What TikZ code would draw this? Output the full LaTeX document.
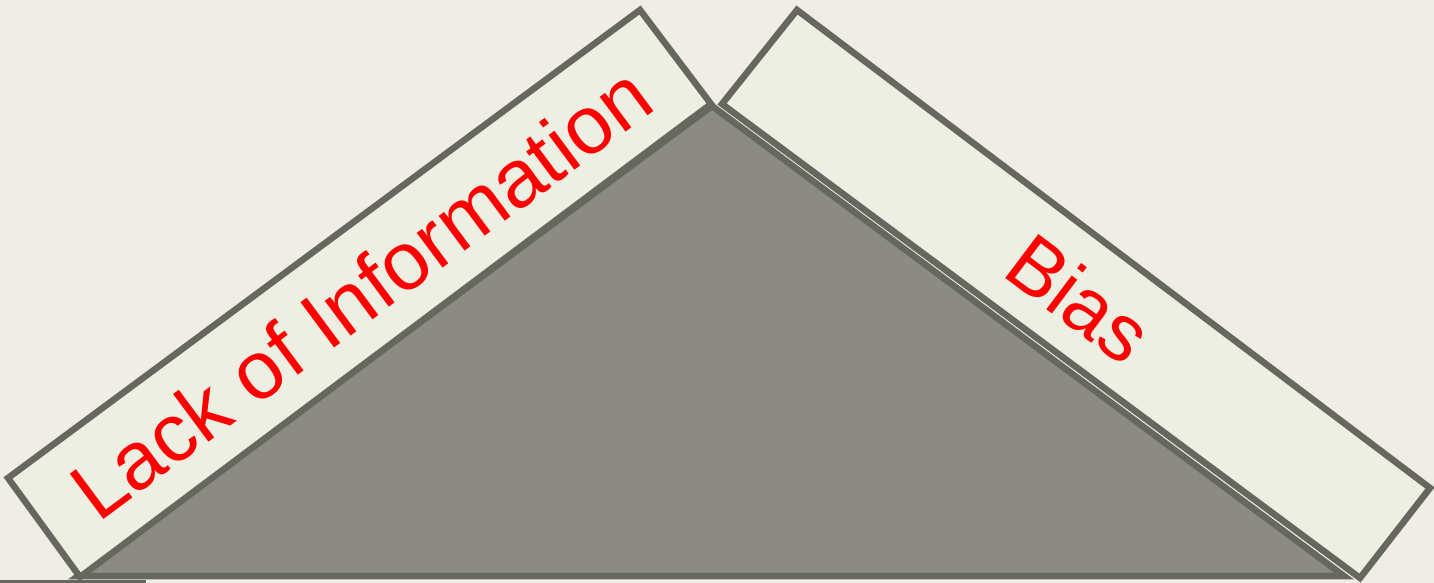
\documentclass[tikz,border=0pt]{standalone}
\usepackage{fontspec}
\setmainfont{Liberation Sans}
\definecolor{bgc}{RGB}{239,237,230}
\definecolor{boxfill}{RGB}{237,239,226}
\definecolor{edgec}{RGB}{103,103,98}
\definecolor{trifill}{RGB}{139,139,132}
\begin{document}
\begin{tikzpicture}[x=1pt,y=-1pt,
  panel/.style={draw=edgec,fill=boxfill,line width=6.5pt,line join=miter},
  tri/.style={draw=edgec,fill=trifill,line width=6.5pt,line join=miter},
  lbl/.style={text=red,inner sep=0pt,font=\fontsize{82}{82}\selectfont}]
\fill[bgc] (0,0) rectangle (1434,583);
\useasboundingbox (0,0) rectangle (1434,583);
% coordinates
\coordinate (L1) at (8,478);
\coordinate (L2) at (640,10);
\coordinate (L3) at (711,104);
\coordinate (L4) at (80,577);
\coordinate (R1) at (722,104);
\coordinate (R2) at (797,10);
\coordinate (R3) at (1430,488);
\coordinate (R4) at (1360,578);
\coordinate (TA) at (712,106);
\coordinate (TL) at (78,576);
\coordinate (TR) at (1344,576);
% strip at bottom left
\fill[edgec] (0,580) rectangle (146,586);
% triangle
\draw[tri] (TA) -- (TL) -- (TR) -- cycle;
% panels
\draw[panel] (L1) -- (L2) -- (L3) -- (L4) -- cycle;
\draw[panel] (R1) -- (R2) -- (R3) -- (R4) -- cycle;
% labels
\node[lbl,anchor=base west,rotate=36.6] (lack) at (98,524) {Lack of Information};
\node[lbl,anchor=base west,rotate=-37,font=\fontsize{80}{80}\selectfont] (bias) at (1000,274) {Bias};
\end{tikzpicture}
\end{document}
